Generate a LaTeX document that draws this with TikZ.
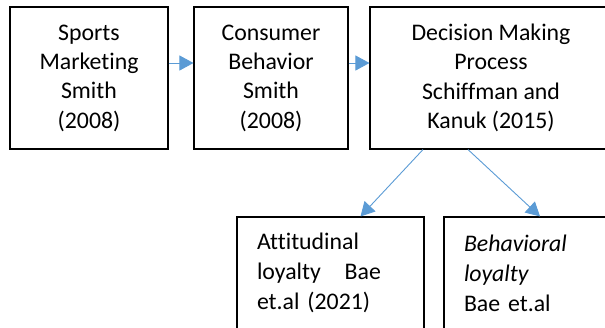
\documentclass[tikz,border=0pt]{standalone}
\usepackage{fontspec}
\setmainfont[Ligatures=NoCommon]{Carlito}
\usetikzlibrary{arrows.meta}
\definecolor{arrowblue}{RGB}{91,155,213}
\begin{document}
\begin{tikzpicture}[x=1pt, y=-1pt,
        box/.style={rectangle, draw, line width=1.1pt, align=center, inner sep=0pt,
            minimum height=142pt, font=\fontsize{23.8}{29.3}\selectfont},
        loyal/.style={rectangle, draw, line width=1.1pt, align=left, inner xsep=20pt,
            inner ysep=0pt, text width=147pt, minimum width=187pt, minimum height=112pt,
            font=\fontsize{23.8}{30}\selectfont},
        arr/.style={draw=arrowblue, line width=0.9pt, -{Triangle[length=14pt, width=15pt]}}
    ]
        \clip (0,0) rectangle (605,327);
        \useasboundingbox (0,0) rectangle (605,327);

        % Top row
        \node[box, minimum width=158pt] (sports) at (89,78) {Sports\\Marketing\\Smith\\(2008)};
        \node[box, minimum width=154pt] (consumer) at (271,78) {Consumer\\Behavior\\Smith\\(2008)};
        \node[box, minimum width=242pt] (decision) at (491,78) {Decision Making\\Process\\Schiffman and\\Kanuk (2015)};

        % Loyalty boxes
        \node[loyal] (attitude) at (330.5,273) {Attitudinal\\loyalty\ \ \ Bae\\et.al (2021)};
        \node[loyal] (behavior) at (537.5,273) {\textit{Behavioral}\\\textit{loyalty}\\Bae et.al};

        \draw[arr] ([yshift=15pt]sports.east) -- ([yshift=15pt]consumer.west);
        \draw[arr] ([yshift=15pt]consumer.east) -- ([yshift=15pt]decision.west);
        \draw[arr] ([xshift=-68pt]decision.south) -- ([xshift=30pt]attitude.north);
        \draw[arr] ([xshift=-23pt]decision.south) -- ([xshift=2.5pt]behavior.north);
    \end{tikzpicture}
\end{document}
